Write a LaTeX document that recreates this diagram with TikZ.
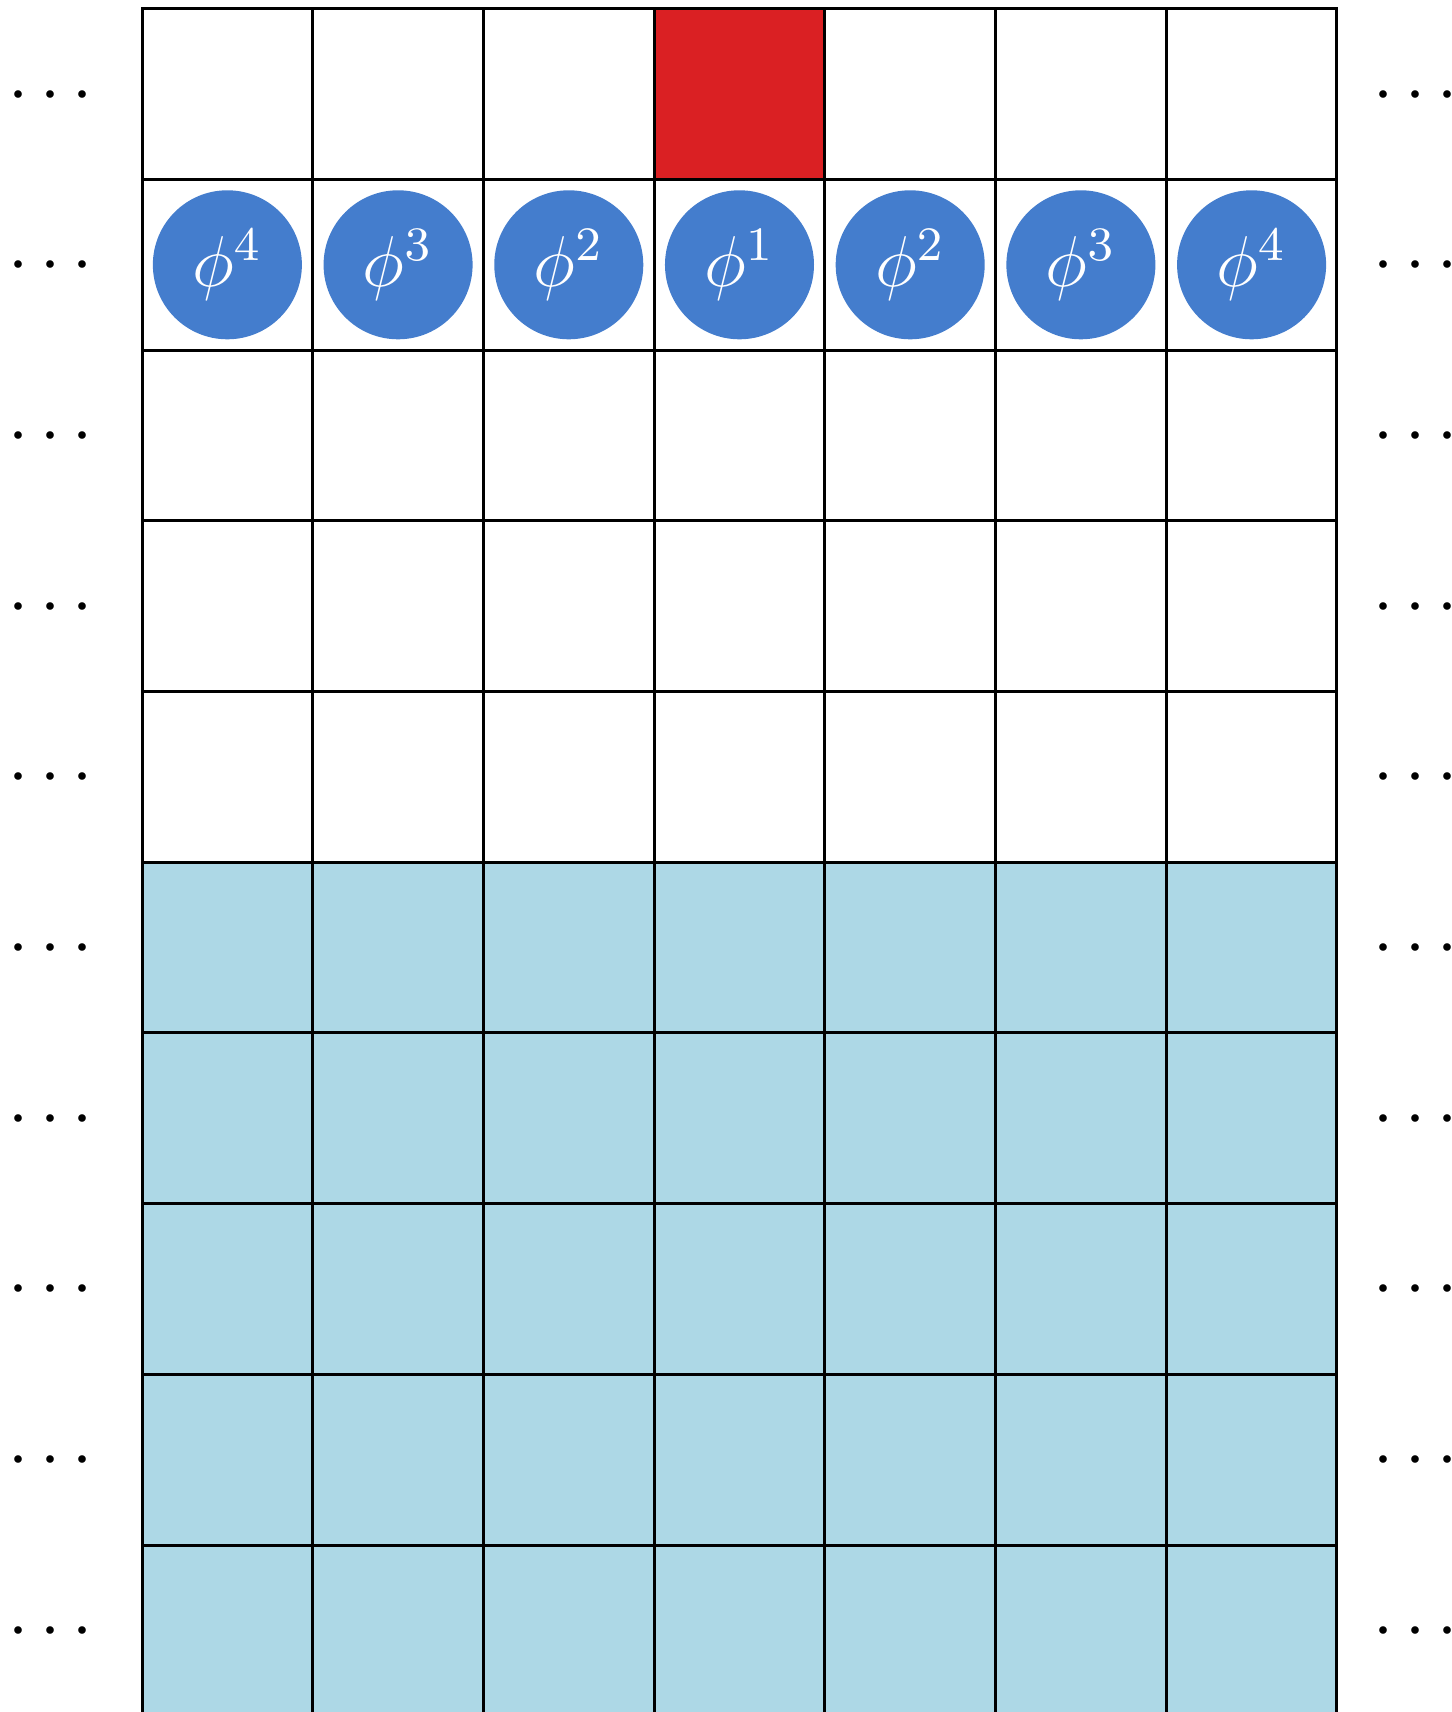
\documentclass[tikz,border=0pt]{standalone}
\definecolor{cellred}{RGB}{218,32,35}
\definecolor{discblue}{RGB}{68,125,205}
\definecolor{seablue}{RGB}{173,216,230}
\begin{document}
\begin{tikzpicture}[x=1cm,y=1cm,
  cellbox/.style={draw=black,line width=0.5pt,minimum width=1cm,minimum height=1cm,inner sep=0pt,outer sep=0pt},
  disc/.style={circle,fill=discblue,minimum size=0.873cm,inner sep=0pt,text=white,font=\large},
  dotsnode/.style={font=\large,inner sep=0pt,anchor=base}]
\useasboundingbox (-0.832,0.051) rectangle (7.674,-9.978);
% upper white rows
\foreach \r in {0,...,4}{
  \foreach \c in {0,...,6}{
    \node[cellbox] (cell-\r-\c) at (\c+0.5,-\r-0.5) {};
  }
}
% lower light-blue rows
\foreach \r in {5,...,9}{
  \foreach \c in {0,...,6}{
    \node[cellbox,fill=seablue] (cell-\r-\c) at (\c+0.5,-\r-0.5) {};
  }
}
% red cell
\node[cellbox,fill=cellred] (red) at (cell-0-3) {};
% discs
\foreach \c in {0,...,6}{
  \pgfmathtruncatemacro\n{abs(\c-3)+1}
  \node[disc] (phi-\c) at (cell-1-\c) {$\phi^{\n}$};
}
% dots on both sides
\foreach \r in {0,...,9}{
  \node[dotsnode] (ldots-\r) at (-0.535,-\r-0.5-0.105) {$\cdots$};
  \node[dotsnode] (rdots-\r) at (7.461,-\r-0.5-0.105) {$\cdots$};
}
\end{tikzpicture}
\end{document}
